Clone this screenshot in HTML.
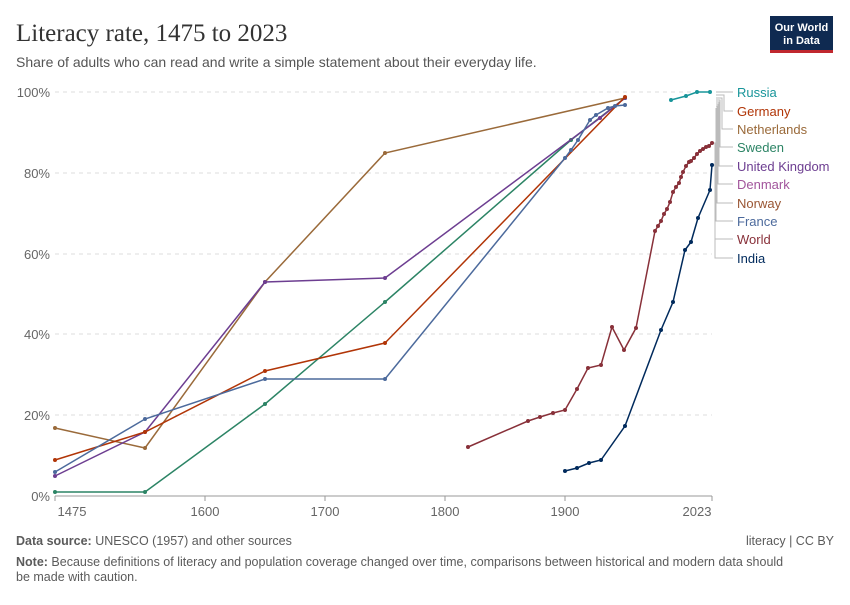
<!DOCTYPE html>
<html><head><meta charset="utf-8"><style>
body{margin:0;width:850px;height:600px;background:#fff;font-family:"Liberation Sans",sans-serif;overflow:hidden}
</style></head><body>
<svg id="s" width="850" height="600" xmlns="http://www.w3.org/2000/svg" font-family="Liberation Sans, sans-serif">
<text x="16" y="41" font-family="Liberation Serif, serif" font-size="25" fill="#333">Literacy rate, 1475 to 2023</text>
<text x="16" y="67" font-size="14" fill="#555">Share of adults who can read and write a simple statement about their everyday life.</text>
<rect x="770" y="16" width="63" height="36" fill="#0f2a51"/>
<rect x="770" y="50" width="63" height="3" fill="#c0282e"/>
<text x="801.5" y="31" font-size="11" fill="#fff" text-anchor="middle" font-weight="bold">Our World</text>
<text x="801.5" y="44" font-size="11" fill="#fff" text-anchor="middle" font-weight="bold">in Data</text>
<g stroke="#ddd" stroke-dasharray="4,4">
<line x1="55" x2="712" y1="92" y2="92"/><line x1="55" x2="712" y1="173" y2="173"/><line x1="55" x2="712" y1="254" y2="254"/><line x1="55" x2="712" y1="334" y2="334"/><line x1="55" x2="712" y1="415" y2="415"/>
</g>
<line x1="55" x2="712" y1="496" y2="496" stroke="#999"/>
<g stroke="#999"><line x1="55" x2="55" y1="496" y2="501"/><line x1="205" x2="205" y1="496" y2="501"/><line x1="325" x2="325" y1="496" y2="501"/><line x1="445" x2="445" y1="496" y2="501"/><line x1="565" x2="565" y1="496" y2="501"/><line x1="712" x2="712" y1="496" y2="501"/></g>
<g font-size="13" fill="#666" text-anchor="end">
<text x="50" y="97">100%</text><text x="50" y="178">80%</text><text x="50" y="259">60%</text><text x="50" y="339">40%</text><text x="50" y="420">20%</text><text x="50" y="501">0%</text></g>
<g font-size="13" fill="#666" text-anchor="middle">
<text x="72" y="516">1475</text><text x="205" y="516">1600</text><text x="325" y="516">1700</text><text x="445" y="516">1800</text><text x="565" y="516">1900</text><text x="697" y="516">2023</text></g>
<g id="d" fill="none" stroke-width="1.5"></g>
<g stroke="#bbb" fill="none">
<path d="M716 92H728M716 95H724V111H733M716 98H722V129H733M716 100H720V147H733M716 102H719V166H733M716 104H718V184H733M716 106H717V203H733M716 108H716V221H733M714 143H715V239H733M714 165H715V258H733"/>
<path d="M728 92H733"/>
</g>
<g font-size="13">
<text x="737" y="97" fill="#18959a">Russia</text>
<text x="737" y="116" fill="#b13507">Germany</text>
<text x="737" y="134" fill="#9a6a3a">Netherlands</text>
<text x="737" y="152" fill="#2c8465">Sweden</text>
<text x="737" y="171" fill="#6d3e91">United Kingdom</text>
<text x="737" y="189" fill="#a2559c">Denmark</text>
<text x="737" y="208" fill="#995533">Norway</text>
<text x="737" y="226" fill="#4c6a9c">France</text>
<text x="737" y="244" fill="#883039">World</text>
<text x="737" y="263" fill="#002a5c">India</text>
</g>
<text x="16" y="545" font-size="12.5" fill="#5b5b5b"><tspan font-weight="bold">Data source:</tspan> UNESCO (1957) and other sources</text>
<text x="834" y="545" font-size="12.5" fill="#5b5b5b" text-anchor="end">literacy | CC BY</text>
<text x="16" y="566" font-size="12.5" fill="#5b5b5b"><tspan font-weight="bold">Note:</tspan> Because definitions of literacy and population coverage changed over time, comparisons between historical and modern data should</text>
<text x="16" y="581" font-size="12.5" fill="#5b5b5b">be made with caution.</text>
</svg>
<script>
var S=[
["#9a6a3a",[[55,428],[145,448],[265,282],[385,153],[625,98]]],
["#2c8465",[[55,492],[145,492],[265,404],[385,302],[571,140],[625,98]]],
["#6d3e91",[[55,476],[145,432],[265,282],[385,278],[600,118],[625,98]]],
["#b13507",[[55,460],[145,432],[265,371],[385,343],[625,97]]],
["#4c6a9c",[[55,472],[145,419],[265,379],[385,379],[565,158],[571,150],[578,140],[590,120],[596,115],[608,108],[615,106],[625,105]]],
["#18959a",[[671,100],[686,96],[697,92],[710,92]]],
["#883039",[[468,447],[528,421],[540,417],[553,413],[565,410],[577,389],[588,368],[601,365],[612,327],[624,350],[636,328],[655,231],[658,226],[661,221],[664,214],[667,209],[670,202],[673,192],[676,187],[679,183],[681,177],[683,172],[686,166],[689,162],[691,161],[694,158],[697,154],[700,151],[703,149],[706,147],[709,146],[712,143]]],
["#002a5c",[[565,471],[577,468],[589,463],[601,460],[625,426],[661,330],[673,302],[685,250],[691,242],[698,218],[710,190],[712,165]]]
];
var g=document.getElementById("d"),ns="http://www.w3.org/2000/svg";
S.forEach(function(s){var p=document.createElementNS(ns,"polyline");p.setAttribute("points",s[1].map(function(q){return q.join(",")}).join(" "));p.setAttribute("stroke",s[0]);g.appendChild(p);
s[1].forEach(function(q){var c=document.createElementNS(ns,"circle");c.setAttribute("cx",q[0]);c.setAttribute("cy",q[1]);c.setAttribute("r",2);c.setAttribute("fill",s[0]);c.setAttribute("stroke","none");g.appendChild(c);});});
</script>
</body></html>
